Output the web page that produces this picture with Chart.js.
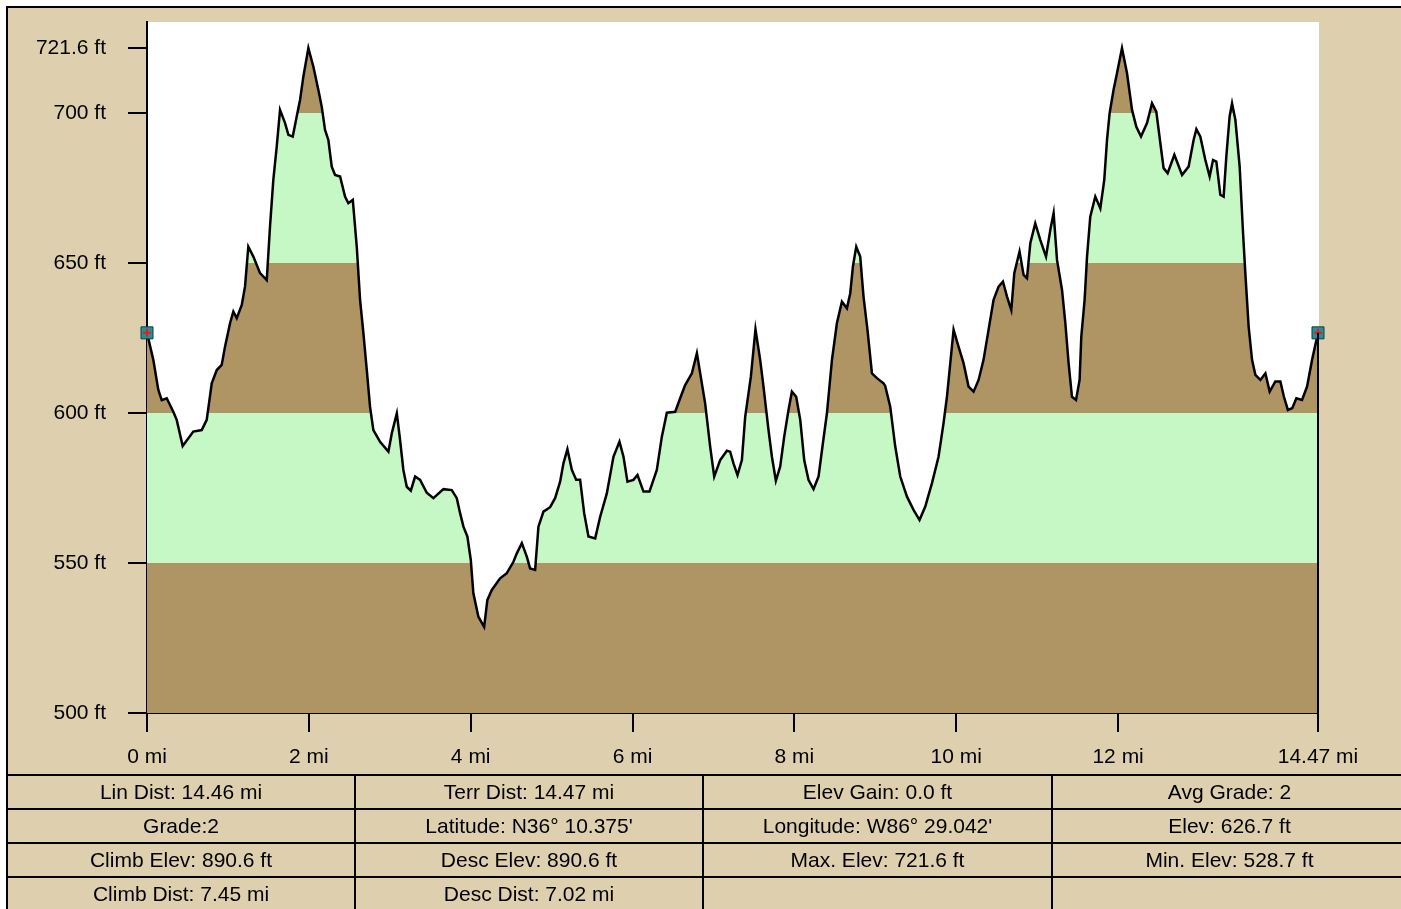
<!DOCTYPE html>
<html>
<head>
<meta charset="utf-8">
<script src="https://cdn.jsdelivr.net/npm/chart.js@4.4.1/dist/chart.umd.min.js"></script>
<style>
    body { margin: 0; background: #fff; width: 1401px; height: 909px; overflow: hidden; position: relative; font-family: "Liberation Sans", Arial, sans-serif; }
    #frame { position: absolute; left: 6px; top: 6px; width: 1399px; height: 907px; background: #ded0ae; border-top: 2px solid #000; border-left: 2px solid #000; }
    #profile { position: absolute; left: 0; top: 0; }
    #stats { position: absolute; left: 6px; top: 774px; width: 1400px; border-collapse: collapse; table-layout: fixed; }
    #stats td { border: 2px solid #000; height: 32px; padding: 0; text-align: center; font-size: 21px; color: #000; white-space: nowrap; }
</style>
</head>
<body>
<div id="frame"></div>
<canvas id="profile" width="1401" height="775"></canvas>
<table id="stats"></table>
<script>
// distance along the track (mi) and elevation (ft)
var dist = [0, 0.078, 0.140, 0.182, 0.244, 0.325, 0.367, 0.441, 0.572, 0.676, 0.738, 0.800, 0.862, 0.923, 0.964,
    1.026, 1.067, 1.109, 1.171, 1.211, 1.252, 1.314, 1.397, 1.480, 1.520, 1.561, 1.603, 1.644, 1.706, 1.747, 1.801,
    1.850, 1.891, 1.932, 1.994, 2.056, 2.117, 2.159, 2.200, 2.241, 2.283, 2.324, 2.386, 2.447, 2.488, 2.543, 2.592,
    2.633, 2.674, 2.716, 2.756, 2.797, 2.880, 2.983, 3.025, 3.087, 3.127, 3.168, 3.210, 3.260, 3.313, 3.375, 3.457,
    3.539, 3.663, 3.766, 3.828, 3.869, 3.910, 3.959, 4.001, 4.033, 4.095, 4.166, 4.206, 4.261, 4.363, 4.446, 4.528,
    4.570, 4.632, 4.693, 4.734, 4.796, 4.837, 4.899, 4.981, 5.043, 5.105, 5.146, 5.195, 5.250, 5.303, 5.352, 5.402,
    5.455, 5.538, 5.600, 5.682, 5.764, 5.838, 5.888, 5.937, 6.011, 6.061, 6.135, 6.209, 6.300, 6.362, 6.424, 6.527,
    6.588, 6.650, 6.733, 6.795, 6.836, 6.897, 6.959, 7.009, 7.083, 7.166, 7.206, 7.247, 7.297, 7.351, 7.392, 7.462,
    7.519, 7.577, 7.618, 7.680, 7.722, 7.771, 7.824, 7.874, 7.927, 7.969, 8.022, 8.072, 8.121, 8.174, 8.236, 8.298,
    8.352, 8.402, 8.464, 8.525, 8.587, 8.649, 8.690, 8.723, 8.764, 8.813, 8.854, 8.903, 8.958, 9.020, 9.101, 9.122,
    9.184, 9.246, 9.308, 9.391, 9.472, 9.546, 9.617, 9.700, 9.781, 9.843, 9.885, 9.926, 9.967, 10.028, 10.090, 10.152,
    10.214, 10.276, 10.337, 10.399, 10.461, 10.523, 10.577, 10.627, 10.680, 10.717, 10.782, 10.832, 10.874, 10.915,
    10.976, 11.038, 11.109, 11.162, 11.203, 11.245, 11.307, 11.348, 11.388, 11.430, 11.480, 11.524, 11.545, 11.586,
    11.616, 11.656, 11.718, 11.780, 11.829, 11.863, 11.895, 11.944, 11.986, 12.048, 12.110, 12.172, 12.225, 12.283,
    12.357, 12.419, 12.472, 12.522, 12.562, 12.612, 12.695, 12.735, 12.790, 12.871, 12.933, 12.967, 13.016, 13.078,
    13.131, 13.173, 13.214, 13.263, 13.304, 13.337, 13.378, 13.408, 13.449, 13.502, 13.544, 13.572, 13.613, 13.655,
    13.696, 13.758, 13.820, 13.873, 13.943, 14.005, 14.049, 14.098, 14.152, 14.203, 14.273, 14.335, 14.397, 14.470];
var elev = [626.7, 617.7, 607.7, 604.3, 604.9, 600.4, 597.7, 589.0, 593.8, 594.3, 597.7, 609.9, 614.3, 616.0, 622.1,
    629.9, 633.8, 631.6, 636.0, 642.1, 655.4, 652.1, 646.6, 644.3, 662.1, 677.7, 688.8, 701.0, 696.6, 692.7, 692.1,
    698.8, 704.3, 712.1, 721.6, 715.4, 707.7, 702.1, 694.3, 691.0, 682.1, 679.3, 678.8, 672.1, 669.9, 671.0, 655.4,
    637.7, 626.6, 614.3, 602.1, 594.3, 590.4, 587.1, 593.2, 599.9, 591.0, 581.0, 575.4, 574.1, 578.8, 577.7, 573.4,
    571.6, 574.6, 574.3, 571.6, 566.6, 562.1, 558.8, 551.0, 539.9, 532.1, 528.7, 537.7, 541.0, 544.9, 546.6, 550.4,
    553.2, 556.6, 552.1, 548.2, 547.7, 562.1, 567.1, 568.6, 571.6, 577.1, 583.2, 587.9, 581.0, 577.7, 577.7, 566.6,
    558.8, 558.2, 565.4, 573.2, 585.4, 590.4, 585.4, 577.1, 577.7, 579.3, 573.8, 573.8, 581.0, 592.1, 600.1, 600.4,
    604.9, 609.3, 613.2, 619.9, 613.2, 603.2, 588.8, 578.8, 584.3, 587.4, 587.1, 583.2, 579.3, 584.3, 598.8, 612.1,
    627.9, 617.7, 608.8, 594.3, 585.4, 577.4, 582.1, 592.1, 601.0, 607.1, 605.4, 597.7, 584.3, 577.7, 574.6, 578.8,
    589.9, 599.9, 617.7, 629.9, 637.1, 634.9, 639.9, 648.8, 655.4, 652.1, 638.8, 627.7, 613.2, 611.6, 609.9, 609.0,
    602.1, 588.8, 578.8, 572.1, 567.7, 564.3, 568.8, 576.6, 585.4, 596.6, 605.4, 616.6, 627.7, 622.1, 616.6, 608.8,
    607.1, 611.0, 617.7, 627.7, 637.7, 642.1, 643.8, 638.8, 634.3, 646.6, 653.8, 646.0, 644.9, 656.6,
    663.2, 657.7, 652.1, 661.0, 666.6, 651.0, 641.0, 629.9, 616.6, 605.4, 604.3, 611.0, 625.4, 637.7,
    652.1, 665.4, 672.1, 668.2, 677.7, 691.0, 699.9, 707.7, 713.2, 721.6, 713.2, 701.0, 695.4, 692.1,
    696.6, 703.2, 700.4, 689.9, 681.6, 679.9, 686.0, 683.2, 679.3, 682.1, 691.0, 694.6, 692.1, 684.3,
    678.8, 684.3, 683.8, 672.7, 672.1, 685.4, 698.8, 703.2, 697.7, 682.1, 659.9, 646.6, 628.8, 617.7,
    612.7, 611.0, 613.2, 607.1, 610.5, 610.5, 605.4, 601.0, 601.6, 604.9, 604.3, 608.8, 617.7, 626.7];

var xTicks = [0, 2, 4, 6, 8, 10, 12, 14.47];
var yTicks = [500, 550, 600, 650, 700, 721.6];
var bandEdges = [500, 550, 600, 650, 700, 730.3];

var stats = [
    ["Lin Dist: 14.46 mi", "Terr Dist: 14.47 mi", "Elev Gain: 0.0 ft", "Avg Grade: 2"],
    ["Grade:2", "Latitude: N36\u00b0 10.375'", "Longitude: W86\u00b0 29.042'", "Elev: 626.7 ft"],
    ["Climb Elev: 890.6 ft", "Desc Elev: 890.6 ft", "Max. Elev: 721.6 ft", "Min. Elev: 528.7 ft"],
    ["Climb Dist: 7.45 mi", "Desc Dist: 7.02 mi", "", ""]
];

var BROWN = "#af9563";
var GREEN = "#c6f8c6";

// stats table under the chart
var table = document.getElementById("stats");
var colW = [348, 348, 349, 355];
var html = "<colgroup>" + colW.map(w => '<col style="width:' + w + 'px">').join("") + "</colgroup>";
stats.forEach(function (row) {
    html += "<tr>" + row.map(t => "<td>" + t + "</td>").join("") + "</tr>";
});
table.innerHTML = html;

var points = dist.map((d, i) => ({ x: d, y: elev[i] }));
var last = dist.length - 1;
var ends = [{ x: dist[0], y: elev[0] }, { x: dist[last], y: elev[last] }];

// elevation bands painted as a hard-stop gradient
function bandFill(context) {
    var chart = context.chart;
    if (!chart.chartArea) return BROWN;
    var y = chart.scales.y;
    var bottom = y.getPixelForValue(bandEdges[0]);
    var top = y.getPixelForValue(bandEdges[bandEdges.length - 1]);
    var g = chart.ctx.createLinearGradient(0, bottom, 0, top);
    for (var i = 0; i < bandEdges.length - 1; i++) {
        var c = i % 2 == 0 ? BROWN : GREEN;
        var a = (bottom - y.getPixelForValue(bandEdges[i])) / (bottom - top);
        var b = (bottom - y.getPixelForValue(bandEdges[i + 1])) / (bottom - top);
        g.addColorStop(Math.min(Math.max(a, 0), 1), c);
        g.addColorStop(Math.min(Math.max(b, 0), 1), c);
    }
    return g;
}

const plotBg = {
    id: 'plotBg',
    beforeDraw(chart) {
        const { ctx, chartArea: a } = chart;
        ctx.save();
        ctx.fillStyle = '#fff';
        ctx.fillRect(a.left, a.top, a.right - a.left + 1, a.bottom - a.top);
        ctx.restore();
    },
    afterDatasetsDraw(chart) {
        // close the profile at the right edge
        const { ctx, scales } = chart;
        const px = scales.x.getPixelForValue(dist[last]);
        ctx.save();
        ctx.strokeStyle = '#000';
        ctx.lineWidth = 2;
        ctx.beginPath();
        ctx.moveTo(px, scales.y.getPixelForValue(elev[last]));
        ctx.lineTo(px, scales.y.getPixelForValue(bandEdges[0]));
        ctx.stroke();
        ctx.restore();
    }
};

var tickFont = { family: "Liberation Sans", size: 21 };

new Chart(document.getElementById("profile"), {
    type: "line",
    data: {
        datasets: [{
            data: points,
            borderColor: "#000",
            borderWidth: 2.5,
            backgroundColor: bandFill,
            fill: "start",
            pointRadius: 0,
            tension: 0,
            order: 2
        }, {
            data: ends,
            showLine: false,
            pointStyle: "rect",
            pointRadius: 8.5,
            backgroundColor: "#2a8c94",
            borderColor: "#0d3f45",
            borderWidth: 1,
            clip: false,
            order: 1
        }, {
            data: ends,
            showLine: false,
            pointStyle: "cross",
            pointRadius: 4,
            borderColor: "#e02020",
            borderWidth: 2,
            clip: false,
            order: 0
        }]
    },
    options: {
        responsive: false,
        animation: false,
        devicePixelRatio: 1,
        layout: { padding: { top: 22, right: 83, left: 0, bottom: 0 } },
        plugins: { legend: { display: false }, tooltip: { enabled: false } },
        scales: {
            x: {
                type: "linear",
                min: 0,
                max: 14.47,
                z: 1,
                afterFit: s => { s.height = 62; s.paddingLeft = 0; s.paddingRight = 0; },
                afterBuildTicks: s => { s.ticks = xTicks.map(v => ({ value: v })); },
                ticks: {
                    autoSkip: false,
                    maxRotation: 0,
                    padding: 13,
                    color: "#000",
                    font: tickFont,
                    callback: v => v + " mi"
                },
                grid: { drawOnChartArea: false, drawTicks: true, tickLength: 19, color: "#000", lineWidth: 2 },
                border: { display: true, color: "#000", width: 2 }
            },
            y: {
                type: "linear",
                min: bandEdges[0],
                max: bandEdges[bandEdges.length - 1],
                z: 1,
                afterFit: s => { s.width = 147; s.paddingTop = 0; s.paddingBottom = 0; },
                afterBuildTicks: s => { s.ticks = yTicks.map(v => ({ value: v })); },
                ticks: {
                    autoSkip: false,
                    padding: 22,
                    color: "#000",
                    font: tickFont,
                    callback: v => v + " ft"
                },
                grid: { drawOnChartArea: false, drawTicks: true, tickLength: 19, color: "#000", lineWidth: 2 },
                border: { display: true, color: "#000", width: 2 }
            }
        }
    },
    plugins: [plotBg]
});
</script>
</body>
</html>
